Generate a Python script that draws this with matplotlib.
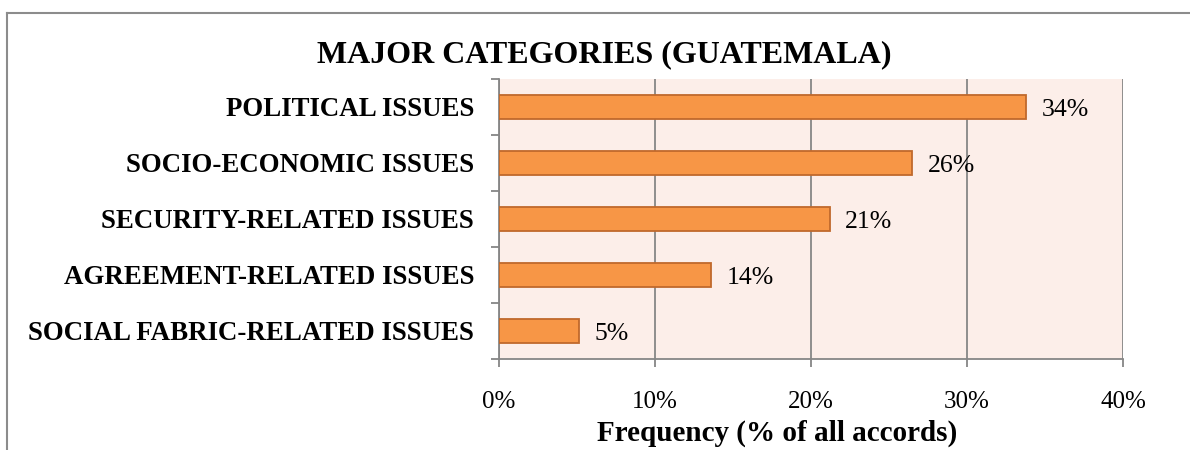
import matplotlib.pyplot as plt
from matplotlib.lines import Line2D

# data
categories = ["POLITICAL ISSUES", "SOCIO-ECONOMIC ISSUES", "SECURITY-RELATED ISSUES",
              "AGREEMENT-RELATED ISSUES", "SOCIAL FABRIC-RELATED ISSUES"]
values = [33.8, 26.5, 21.2, 13.6, 5.1]
value_labels = ["34%", "26%", "21%", "14%", "5%"]
xticks = [0, 10, 20, 30, 40]
xtick_labels = ["0%", "10%", "20%", "30%", "40%"]

plt.rcParams['font.family'] = ['Liberation Serif', 'DejaVu Serif']

fig = plt.figure(figsize=(11.9, 4.5), dpi=100)
ax = fig.add_axes([499 / 1190, 1 - 359 / 450, 624 / 1190, 280 / 450])
ax.set_facecolor('#FCEEE9')

ypos = list(range(len(categories)))[::-1]
ax.barh(ypos, values, height=0.43, color='#F79646', edgecolor='#C0692C', linewidth=1.3, zorder=3)

for y, v, lab in zip(ypos, values, value_labels):
    ax.text(v + 1.0, y, lab, va='center_baseline', ha='left', fontsize=18.5, zorder=4)

ax.set_xlim(0, 40)
ax.set_ylim(-0.5, len(categories) - 0.5)
ax.set_xticks(xticks)
ax.set_xticklabels(xtick_labels, fontsize=18)
ax.set_yticks(ypos)
ax.set_yticklabels(categories, fontsize=19.4, fontweight='bold')
ax.tick_params(axis='y', length=0, pad=18)
ax.tick_params(axis='x', length=6, color='#868686', width=1.3, pad=17)

# category boundary ticks on y axis
ax.set_yticks([i - 0.5 for i in range(len(categories) + 1)], minor=True)
ax.tick_params(axis='y', which='minor', length=6, color='#868686', width=1.3)

ax.grid(axis='x', color='#868686', linewidth=1.3, zorder=1)
for s in ['top', 'right']:
    ax.spines[s].set_visible(False)
for s in ['left', 'bottom']:
    ax.spines[s].set_color('#868686')
    ax.spines[s].set_linewidth(1.3)

fig.text(604 / 1190, 1 - 55 / 450, "MAJOR CATEGORIES (GUATEMALA)", ha='center', va='center',
         fontsize=23, fontweight='bold')
fig.text(777 / 1190, 1 - 433 / 450, "Frequency (% of all accords)", ha='center', va='center',
         fontsize=21, fontweight='bold')

# outer chart border (left and top edges visible)
fig.add_artist(Line2D([7 / 1190, 7 / 1190], [0, 1 - 13 / 450], color='#8C8C8C', linewidth=1.5))
fig.add_artist(Line2D([7 / 1190, 1], [1 - 13 / 450, 1 - 13 / 450], color='#8C8C8C', linewidth=1.5))

fig.savefig("out.png", dpi=100)
